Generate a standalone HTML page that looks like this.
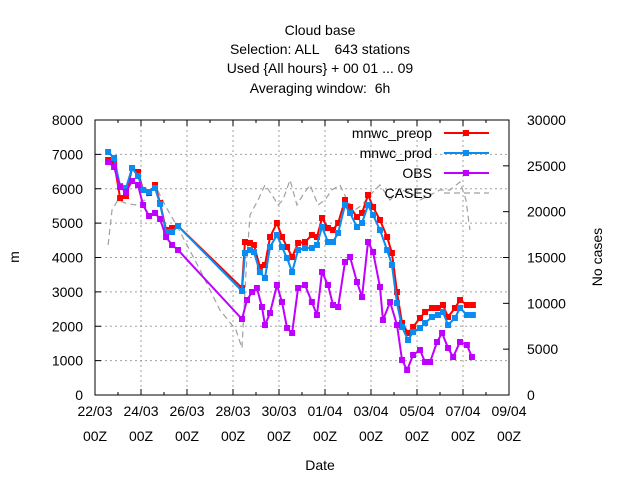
<!DOCTYPE html>
<html><head><meta charset="utf-8"><style>
html,body{margin:0;padding:0;background:#fff;}
svg{display:block;font-family:"Liberation Sans",sans-serif;font-size:14px;}
.pre{white-space:pre;}
</style></head><body>
<svg id="chart" width="640" height="480" viewBox="0 0 640 480">
<g text-anchor="middle" fill="#000">
<text x="320" y="35">Cloud base</text>
<text x="320" y="54" class="pre">Selection: ALL    643 stations</text>
<text x="320" y="73">Used {All hours} + 00 01 ... 09</text>
<text x="320" y="93" class="pre">Averaging window:  6h</text>
</g>
<g id="grid"></g>
<g id="axes"></g>
<g id="series"></g>
<text x="320" y="470" text-anchor="middle">Date</text>
<text x="19" y="257" text-anchor="middle" transform="rotate(-90 19 257)">m</text>
<text x="602" y="257" text-anchor="middle" transform="rotate(-90 602 257)">No cases</text>
<g id="legend"></g>
</svg>
<script>
const xTickLabels = ["22/03","24/03","26/03","28/03","30/03","01/04","03/04","05/04","07/04","09/04"];
const yTicks = [0,1000,2000,3000,4000,5000,6000,7000,8000];
const y2Ticks = [0,5000,10000,15000,20000,25000,30000];
const modelDays = [0.57,0.83,1.09,1.35,1.61,1.87,2.09,2.35,2.61,2.83,3.09,3.35,3.61,6.39,6.52,6.74,6.91,7.17,7.39,7.61,7.91,8.13,8.35,8.57,8.83,9.13,9.43,9.65,9.87,10.13,10.35,10.57,10.87,11.09,11.39,11.61,11.87,12.09,12.39,12.70,12.91,13.13,13.35,13.61,13.83,14.13,14.35,14.65,14.91,15.13,15.35,15.65,15.87,16.17,16.43];
const preopValues = [6836,6778,5731,5789,6603,6487,5963,5876,6109,5585,4800,4858,4916,3113,4451,4422,4364,3724,3782,4596,5004,4596,4305,4014,4422,4451,4654,4596,5149,4858,4800,5004,5673,5469,5178,5295,5818,5469,5091,4596,4131,2996,2095,1804,1978,2240,2415,2531,2531,2618,2269,2531,2764,2618,2618];
const prodValues = [7069,6894,6080,6022,6603,6371,5963,5905,6022,5556,4742,4742,4916,3025,4131,4218,4160,3578,3404,4305,4654,4305,3985,3578,4218,4276,4276,4364,4887,4451,4451,4713,5527,5295,4887,5004,5527,5236,4800,4218,3782,2676,1978,1600,1833,1949,2095,2269,2327,2415,2036,2240,2531,2327,2327];
const obsDays = [0.57,0.83,1.09,1.35,1.61,1.87,2.09,2.35,2.61,2.83,3.09,3.35,3.61,6.39,6.61,6.83,7.04,7.26,7.39,7.61,7.91,8.13,8.35,8.57,8.83,9.13,9.43,9.65,9.87,10.13,10.35,10.57,10.87,11.09,11.39,11.61,11.87,12.09,12.39,12.52,12.83,13.13,13.35,13.57,13.83,14.13,14.35,14.57,14.87,15.09,15.35,15.57,15.87,16.17,16.39];
const obsValues = [6778,6633,6051,5905,6225,6109,5527,5207,5295,5120,4596,4364,4218,2211,2764,2996,3113,2560,2036,2385,3200,2705,1949,1804,3113,3200,2705,2327,3578,3200,2618,2560,3869,4014,3287,2851,4451,4160,3142,2182,2705,2036,1018,727,1164,1309,960,960,1542,1804,1367,1105,1542,1455,1105];
const caseDays = [0.57,0.74,1.0,1.30,1.74,2.17,2.61,3.04,3.61,4.57,5.43,6.13,6.39,6.57,6.74,7.09,7.39,7.70,7.96,8.17,8.48,8.78,9.04,9.35,9.70,10.0,10.30,10.65,10.96,11.30,11.61,11.96,12.39,12.83,13.26,13.70,14.13,14.57,15.0,15.43,15.87,16.13,16.30];
const caseValues = [16364,20184,21275,20947,20729,21275,22911,20729,18220,13638,9274,7092,5128,13638,19638,21275,22911,21820,20729,21275,23457,20729,21820,22911,20729,21275,22366,22911,21275,20184,20729,21820,22911,21275,22366,22147,21275,21820,22366,22366,23238,21275,18002];

const NS="http://www.w3.org/2000/svg";
const L=95,R=509,T=120,B=395;
const xS=d=>L+(R-L)*d/18;
const yS=v=>B-(B-T)*v/8000;
const y2S=v=>B-(B-T)*v/30000;
function mk(tag,attrs,parent){const e=document.createElementNS(NS,tag);for(const k in attrs)e.setAttribute(k,attrs[k]);parent.appendChild(e);return e;}
const grid=document.getElementById('grid'),axes=document.getElementById('axes'),ser=document.getElementById('series'),leg=document.getElementById('legend');
for(let i=1;i<xTickLabels.length-1;i++){const g=mk('line',{x1:xS(i*2),x2:xS(i*2),y1:T,y2:B,stroke:'#a0a0a0','stroke-dasharray':'2,3'},grid);

}
for(let i=1;i<yTicks.length-1;i++){const g=mk('line',{x1:L,x2:R,y1:yS(yTicks[i]),y2:yS(yTicks[i]),stroke:'#a0a0a0','stroke-dasharray':'2,3'},grid);

}
const fr=mk('rect',{x:L,y:T,width:R-L,height:B-T,fill:'none',stroke:'#000','stroke-width':1},axes);


for(let d=0;d<=18;d++){const len=d%2===0?6:3;
mk('line',{x1:xS(d),x2:xS(d),y1:B,y2:B-len,stroke:'#000'},axes);
mk('line',{x1:xS(d),x2:xS(d),y1:T,y2:T+len,stroke:'#000'},axes);}
xTickLabels.forEach((s,i)=>{const t=mk('text',{x:xS(i*2),y:416,'text-anchor':'middle'},axes);t.textContent=s;


const t2=mk('text',{x:xS(i*2),y:441,'text-anchor':'middle'},axes);t2.textContent='00Z';

});
yTicks.forEach(v=>{mk('line',{x1:L,x2:L+6,y1:yS(v),y2:yS(v),stroke:'#000'},axes);
const t=mk('text',{x:83,y:yS(v)+5,'text-anchor':'end'},axes);t.textContent=v;

});
y2Ticks.forEach(v=>{mk('line',{x1:R,x2:R-6,y1:y2S(v),y2:y2S(v),stroke:'#000'},axes);
const t=mk('text',{x:527,y:y2S(v)+5,'text-anchor':'start'},axes);t.textContent=v;

});
const cp=mk('polyline',{points:caseDays.map((d,i)=>xS(d)+','+y2S(caseValues[i])).join(' '),fill:'none',stroke:'#a0a0a0','stroke-width':1.2,'stroke-dasharray':'6,4'},ser);


function series(days,vals,color,name){
const p=mk('polyline',{points:days.map((d,i)=>xS(d)+','+yS(vals[i])).join(' '),fill:'none',stroke:color,'stroke-width':2},ser);


days.forEach((d,i)=>{const m=mk('rect',{x:xS(d)-3,y:yS(vals[i])-3,width:6,height:6,fill:color},ser);

});}
series(modelDays,preopValues,'#ff0000','mnwc-preop');
series(modelDays,prodValues,'#0a8cf0','mnwc-prod');
series(obsDays,obsValues,'#c000ff','obs');
const legItems=[['mnwc_preop','#ff0000',133],['mnwc_prod','#0a8cf0',153],['OBS','#c000ff',173],['CASES','#a0a0a0',193]];
legItems.forEach(([n,c,y],i)=>{const t=mk('text',{x:432,y:y+5,'text-anchor':'end'},leg);t.textContent=n;


if(i<3){mk('line',{x1:444,x2:489,y1:y,y2:y,stroke:c,'stroke-width':2},leg);
const m=mk('rect',{x:463,y:y-3,width:6,height:6,fill:c},leg);

}
else{const l=mk('line',{x1:444,x2:489,y1:y,y2:y,stroke:c,'stroke-width':1.2,'stroke-dasharray':'6,4'},leg);

}});
</script>
</body></html>
